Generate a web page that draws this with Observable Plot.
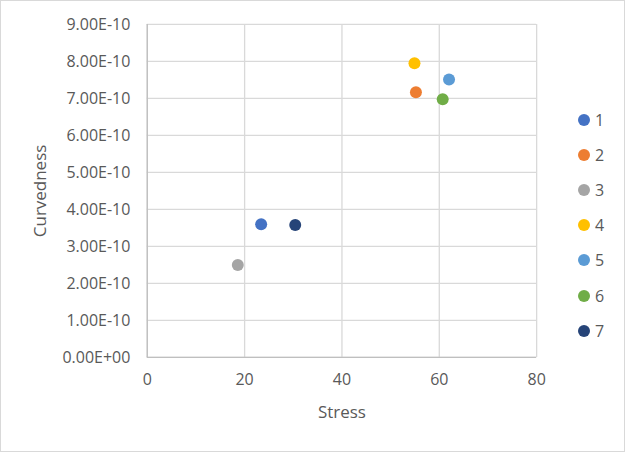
<!DOCTYPE html>
<html>
<head>
<meta charset="utf-8">
<script src="https://cdn.jsdelivr.net/npm/d3@7"></script>
<script src="https://cdn.jsdelivr.net/npm/@observablehq/plot@0.6"></script>
<style>
  html, body { margin: 0; padding: 0; background: #fff; }
  #wrap { position: relative; width: 625px; height: 452px; box-sizing: border-box; border: 1px solid #D9D9D9; overflow: hidden; font-family: "Open Sans", sans-serif; }
  #chart { position: absolute; left: -1px; top: -1px; }
  #legend { position: absolute; left: 577px; top: 101.5px; color: #595959; font-size: 16px; }
  .item { display: flex; align-items: center; height: 35.1px; }
  .sw { width: 12px; height: 12px; border-radius: 50%; margin-right: 5px; }
</style>
</head>
<body>
<div id="wrap"><div id="chart"></div><div id="legend"></div></div>
<script>
const series = ["1", "2", "3", "4", "5", "6", "7"];
const stress = [23.4, 55.2, 18.6, 54.9, 62.0, 60.7, 30.4];
const curvedness = [3.60e-10, 7.17e-10, 2.50e-10, 7.95e-10, 7.51e-10, 6.98e-10, 3.58e-10];
const colors = ["#4472C4", "#ED7D31", "#A5A5A5", "#FFC000", "#5B9BD5", "#70AD47", "#264478"];
const xTicks = [0, 20, 40, 60, 80];
const yTicks = [0, 1e-10, 2e-10, 3e-10, 4e-10, 5e-10, 6e-10, 7e-10, 8e-10, 9e-10];

const data = series.map((s, i) => ({series: s, x: stress[i], y: curvedness[i]}));

function sci(v) {
  const [m, e] = v.toExponential(2).split("e");
  const sign = e[0] === "-" ? "-" : "+";
  const digits = e.replace(/[+-]/, "").padStart(2, "0");
  return m + "E" + sign + digits;
}

const plot = Plot.plot({
  width: 625,
  height: 452,
  marginLeft: 147,
  marginRight: 88,
  marginTop: 24,
  marginBottom: 94.5,
  style: {fontFamily: "'Open Sans', sans-serif", fontSize: "16px", color: "#595959", background: "transparent"},
  x: {domain: [0, 80], ticks: xTicks},
  y: {domain: [0, 9e-10], ticks: yTicks},
  color: {domain: series, range: colors},
  marks: [
    Plot.gridX(xTicks, {stroke: "#D9D9D9", strokeOpacity: 1, strokeWidth: 1.3}),
    Plot.gridY(yTicks, {stroke: "#D9D9D9", strokeOpacity: 1, strokeWidth: 1.3}),
    Plot.ruleX([0], {stroke: "#BFBFBF", strokeWidth: 1.3}),
    Plot.ruleY([0], {stroke: "#BFBFBF", strokeWidth: 1.3}),
    Plot.axisX(xTicks, {tickSize: 0, tickPadding: 16, fill: "#595959", fontSize: "16px", label: null}),
    Plot.axisY(yTicks, {tickSize: 0, tickPadding: 17, fill: "#595959", fontSize: "16px", tickFormat: sci, label: null}),
    Plot.text(["Stress"], {frameAnchor: "bottom", lineAnchor: "middle", textAnchor: "middle", dy: 55.5, fill: "#595959", fontSize: "17px"}),
    Plot.text(["Curvedness"], {frameAnchor: "left", lineAnchor: "middle", textAnchor: "middle", dx: -106.5, rotate: -90, fill: "#595959", fontSize: "17px"}),
    Plot.dot(data, {x: "x", y: "y", fill: "series", r: 6})
  ]
});
document.getElementById("chart").appendChild(plot);

const legend = document.getElementById("legend");
series.forEach((s, i) => {
  const item = document.createElement("div");
  item.className = "item";
  const sw = document.createElement("div");
  sw.className = "sw";
  sw.style.background = colors[i];
  const lab = document.createElement("span");
  lab.textContent = s;
  item.appendChild(sw);
  item.appendChild(lab);
  legend.appendChild(item);
});
</script>
</body>
</html>
